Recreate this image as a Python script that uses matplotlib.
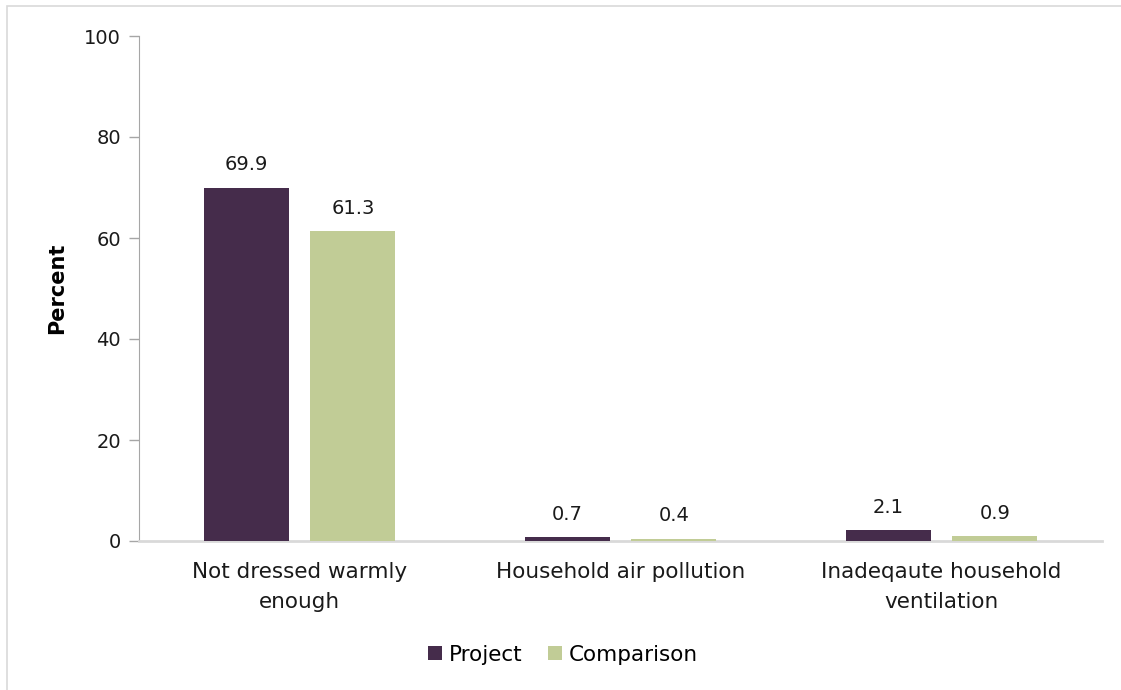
import numpy as np
import matplotlib
matplotlib.use("Agg")
import matplotlib.pyplot as plt
from matplotlib.patches import Rectangle

plt.rcParams["font.family"] = ["DejaVu Sans"]

categories = ["Not dressed warmly\nenough", "Household air pollution", "Inadeqaute household\nventilation"]
project = [69.9, 0.7, 2.1]
comparison = [61.3, 0.4, 0.9]
series_names = ["Project", "Comparison"]
colors = ["#452C4B", "#C1CC96"]

fig = plt.figure(figsize=(11.21, 6.90), dpi=100)
# light frame round the chart area
fig.patches.append(Rectangle((7 / 1121, -0.1), 1.2, 1.1 - 6 / 690,
                             transform=fig.transFigure, fill=False,
                             edgecolor="#d9d9d9", linewidth=1.2))
ax = fig.add_axes([139 / 1121, 1 - 541 / 690, 963 / 1121, 505 / 690])

x = np.arange(len(categories))
w = 0.265
off = w / 2 + 0.034
for vals, shift, col, name in zip([project, comparison], [-off, off], colors, series_names):
    b = ax.bar(x + shift, vals, width=w, color=col, label=name, zorder=3)
    for rect, v in zip(b, vals):
        ax.annotate(f"{v:.1f}", (rect.get_x() + rect.get_width() / 2, v),
                    xytext=(0, 10), textcoords="offset points",
                    ha="center", va="bottom", fontsize=14, color="#1a1a1a")

ax.set_xlim(-0.5, 2.5)
ax.set_ylim(0, 100)
ax.set_yticks(np.arange(0, 101, 20))
ax.set_xticks(x)
ax.set_xticklabels(categories, fontsize=15.5, color="#1a1a1a", linespacing=1.65)
ax.tick_params(axis="x", length=0, pad=15)
ax.tick_params(axis="y", length=7, width=1, color="#a6a6a6", labelsize=14,
               labelcolor="#1a1a1a", pad=6)

for s in ["top", "right"]:
    ax.spines[s].set_visible(False)
ax.spines["left"].set_color("#a6a6a6")
ax.spines["bottom"].set_color("#d9d9d9")
ax.spines["bottom"].set_linewidth(2)

ax.set_ylabel("Percent", fontsize=15, fontweight="bold", labelpad=12)

ax.legend(loc="center", bbox_to_anchor=(0.44, -0.225), ncol=2, frameon=False,
          fontsize=15.5, handlelength=0.65, handleheight=0.65, handletextpad=0.3,
          columnspacing=1.2)

fig.savefig("out.png", dpi=100)
